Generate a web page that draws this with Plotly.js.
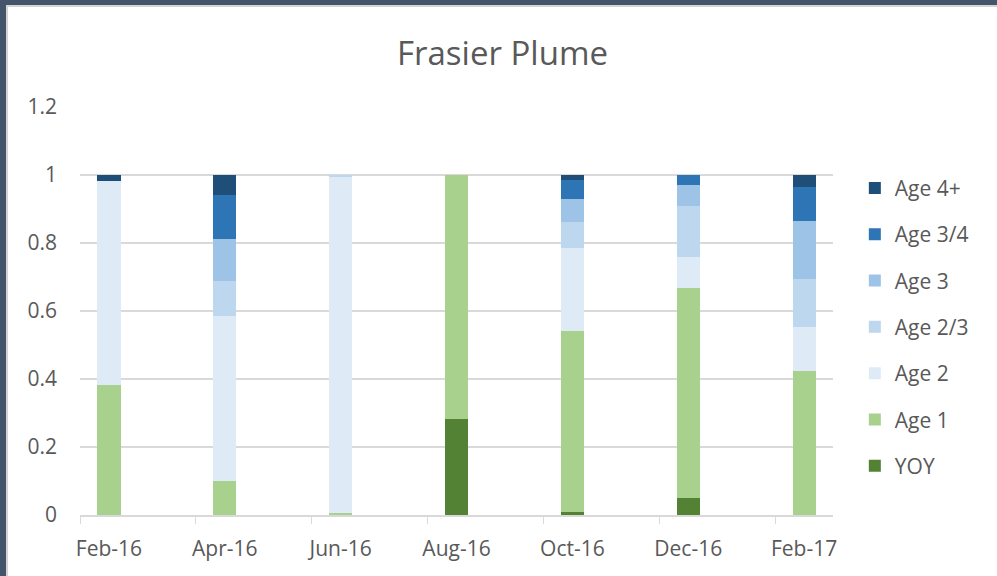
<!DOCTYPE html>
<html>
<head>
<meta charset="utf-8">
<script src="https://cdn.plot.ly/plotly-3.0.1.min.js"></script>
<style>
  html, body { margin: 0; padding: 0; background: #44546A; }
  #frame {
    position: absolute; left: 6px; top: 5px; width: 991px; height: 571px;
    background: #fff; border-top: 2px solid #D4D4D4; border-left: 2px solid #D4D4D4;
    box-sizing: border-box;
  }
  #chart { width: 989px; height: 569px; }
</style>
</head>
<body>
<div id="frame"><div id="chart"></div></div>
<script>
// monthly slots on the date axis (Excel draws one slot per month)
const months = ["Feb-16","Mar-16","Apr-16","May-16","Jun-16","Jul-16","Aug-16",
                "Sep-16","Oct-16","Nov-16","Dec-16","Jan-17","Feb-17"];
// sampling dates
const samples = ["Feb-16","Apr-16","Jun-16","Aug-16","Oct-16","Dec-16","Feb-17"];

// proportion of catch by age class
const yoy     = [0,     0,     0,     0.281, 0.008, 0.051, 0];
const age1    = [0.381, 0.101, 0.005, 0.719, 0.533, 0.616, 0.424];
const age2    = [0.600, 0.484, 0.988, 0,     0.245, 0.092, 0.130];
const age23   = [0,     0.104, 0.007, 0,     0.075, 0.149, 0.140];
const age3    = [0,     0.122, 0,     0,     0.069, 0.063, 0.171];
const age34   = [0,     0.131, 0,     0,     0.055, 0.029, 0.101];
const age4p   = [0.019, 0.058, 0,     0,     0.015, 0,     0.034];

const seriesNames  = ["YOY","Age 1","Age 2","Age 2/3","Age 3","Age 3/4","Age 4+"];
const seriesValues = [yoy, age1, age2, age23, age3, age34, age4p];
const seriesColors = ["#548235","#A9D18E","#DEEBF7","#BDD7EE","#9DC3E6","#2E75B6","#1F4E79"];

const traces = seriesNames.map((name, i) => ({
    type: "bar",
    name: name,
    x: samples,
    y: seriesValues[i],
    width: 0.4,
    legendgroup: name,
    legendrank: 1000 - i,   // top of the stack first in the legend
    marker: { color: seriesColors[i], line: { width: 0 } },
    hoverinfo: "x+y+name"
}));

const layout = {
    barmode: "stack",
    title: {
        text: "Frasier Plume",
        font: { family: "Open Sans", size: 33, color: "#595959" },
        x: 0.5, xanchor: "center", y: 0.918, yanchor: "middle"
    },
    font: { family: "Open Sans", color: "#595959" },
    paper_bgcolor: "#ffffff",
    plot_bgcolor: "#ffffff",
    margin: { l: 72, r: 164, t: 100, b: 61 },
    showlegend: true,
    legend: {
        x: 1.029, xanchor: "left", y: 0.851, yanchor: "top",
        traceorder: "grouped",
        tracegroupgap: 16,
        font: { family: "Open Sans", size: 21, color: "#595959" }
    },
    xaxis: {
        type: "category",
        categoryorder: "array",
        categoryarray: months,
        // stop a hair short so no boundary tick is drawn at the right end
        range: [-0.5, months.length - 0.501],
        tickmode: "array",
        tickvals: samples,
        ticktext: samples,
        tickson: "boundaries",
        tickangle: 0,
        ticks: "outside",
        ticklen: 7,
        tickcolor: "#D9D9D9",
        tickwidth: 1,
        ticklabelstandoff: 14,
        showline: true,
        linecolor: "#D9D9D9",
        linewidth: 2,
        showgrid: false,
        tickfont: { family: "Open Sans", size: 21, color: "#595959" }
    },
    yaxis: {
        range: [0, 1.2],
        dtick: 0.2,
        showgrid: true,
        gridcolor: "#D9D9D9",
        gridwidth: 2,
        zeroline: false,
        showline: false,
        ticks: "",
        ticklabelstandoff: 22,
        tickfont: { family: "Open Sans", size: 21, color: "#595959" }
    }
};

Plotly.newPlot("chart", traces, layout, { displayModeBar: false, responsive: false });
</script>
</body>
</html>
